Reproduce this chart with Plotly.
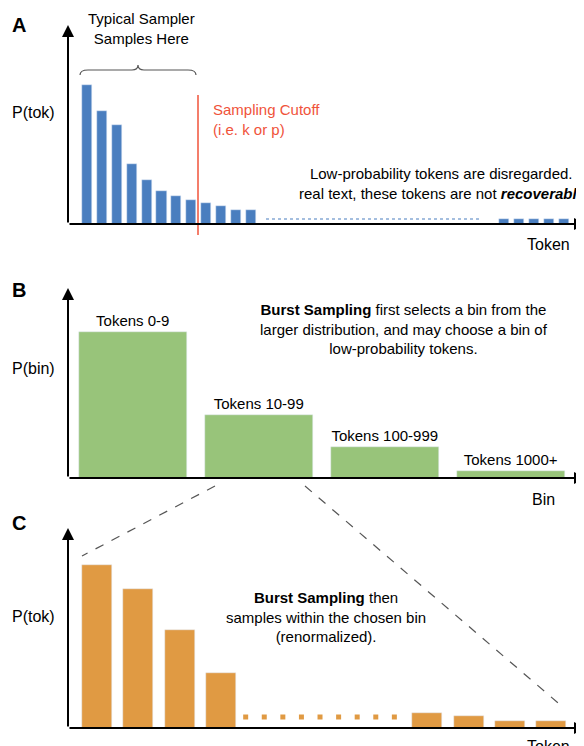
import plotly.graph_objects as go

W, H = 584, 746

# panel A: token probabilities (bar heights in px-like units)
a_idx = [0, 1, 2, 3, 4, 5, 6, 7, 8, 9, 10, 11, 28, 29, 30, 31, 32]
a_val = [139, 113, 99, 60, 44, 33, 28, 24, 21, 18, 14, 14, 5, 5, 5, 5, 5]

# panel B: bins
b_idx = [0, 1, 2, 3]
b_val = [146, 63, 31, 7]
b_lab = ["Tokens 0-9", "Tokens 10-99", "Tokens 100-999", "Tokens 1000+"]

# panel C: renormalized tokens within the bin
c_idx = [0, 1, 2, 3, 8, 9, 10, 11]
c_val = [163, 139, 98, 55, 15, 12, 7, 7]
c_dots = [3.6, 4.05, 4.5, 4.95, 5.4, 5.85, 6.3, 6.75, 7.2]

BLUE, GREEN, ORANGE, RED = "#4a7ebf", "#98c47a", "#e09a43", "#f0533a"
FONT = "Liberation Sans"


def px(x):
    return x / W


def py(y):
    return 1 - y / H


fig = go.Figure()
fig.add_bar(x=a_idx, y=a_val, width=0.68, marker_color=BLUE, xaxis="x", yaxis="y")
fig.add_bar(x=b_idx, y=b_val, width=0.86, marker_color=GREEN, xaxis="x2", yaxis="y2",
            text=b_lab, textposition="outside", cliponaxis=False,
            textfont=dict(size=15, color="black"))
fig.add_bar(x=c_idx, y=c_val, width=0.73, marker_color=ORANGE, xaxis="x3", yaxis="y3")
fig.add_scatter(x=c_dots, y=[11] * len(c_dots), mode="markers", xaxis="x3", yaxis="y3",
                marker=dict(symbol="square", size=5, color=ORANGE))

ax_common = dict(showgrid=False, zeroline=False, showticklabels=False, ticks="", fixedrange=True)
fig.update_layout(
    width=W, height=H, margin=dict(l=0, r=0, t=0, b=0),
    paper_bgcolor="white", plot_bgcolor="white", showlegend=False, bargap=0,
    font=dict(family=FONT, size=15, color="black"),
    xaxis=dict(domain=[px(60), px(578)], range=[-1.275, 33.49], **ax_common),
    yaxis=dict(domain=[py(216), py(17)], range=[0, 199], **ax_common),
    xaxis2=dict(domain=[px(60), px(578)], range=[-0.516, 3.595], anchor="y2", **ax_common),
    yaxis2=dict(domain=[py(470), py(280)], range=[0, 190], anchor="x2", **ax_common),
    xaxis3=dict(domain=[px(60), px(578)], range=[-0.702, 11.84], anchor="y3", **ax_common),
    yaxis3=dict(domain=[py(720), py(520)], range=[0, 200], anchor="x3", **ax_common),
)

ann = []
shapes = []


def text(x, y, s, size=15, color="black", xanchor="center", align="center"):
    ann.append(dict(x=px(x), y=py(y), xref="paper", yref="paper", text=s, showarrow=False,
                    xanchor=xanchor, yanchor="middle", align=align,
                    font=dict(size=size, color=color, family=FONT)))


def arrow(x0, y0, x1, y1):
    ann.append(dict(x=px(x1), y=py(y1), xref="paper", yref="paper", ax=x0 - x1, ay=y0 - y1,
                    axref="pixel", ayref="pixel", showarrow=True, arrowhead=2, arrowsize=1.2,
                    arrowwidth=2, arrowcolor="black", text=""))


for base, top in [(216, 17), (470, 280), (720, 520)]:
    arrow(60, base, 60, top)
    arrow(60, base, 578, base)

# panel A
text(2, 17, "<b>A</b>", size=20, xanchor="left")
text(2, 105, "P(tok)", size=16, xanchor="left")
text(133, 20, "Typical Sampler<br>Samples Here")
text(540, 236, "Token", size=16)
text(203, 112, "Sampling Cutoff<br>(i.e. k or p)", color=RED, xanchor="left", align="left")
text(583, 176, "Low-probability tokens are disregarded. In<br>real text, these tokens are not <b><i>recoverable</i></b>.",
     xanchor="right", align="right")
shapes.append(dict(type="line", xref="paper", yref="paper", x0=px(190), x1=px(190), y0=py(87), y1=py(227),
                   line=dict(color=RED, width=1.5)))
shapes.append(dict(type="line", xref="paper", yref="paper", x0=px(258), x1=px(474), y0=py(211), y1=py(211),
                   line=dict(color=BLUE, width=1.2, dash="dot")))
# curly brace
bx0, bx1, bm, yt, yb = 72, 188, 130, 57, 67
shapes.append(dict(type="path", xref="paper", yref="paper",
                   path=(f"M {px(bx0)},{py(yb)} Q {px(bx0)},{py(yt+5)} {px(bx0+8)},{py(yt+5)} "
                         f"L {px(bm-6)},{py(yt+5)} Q {px(bm)},{py(yt+5)} {px(bm)},{py(yt)} "
                         f"Q {px(bm)},{py(yt+5)} {px(bm+6)},{py(yt+5)} "
                         f"L {px(bx1-8)},{py(yt+5)} Q {px(bx1)},{py(yt+5)} {px(bx1)},{py(yb)}"),
                   line=dict(color="#555555", width=1.2)))

# panel B
text(2, 282, "<b>B</b>", size=20, xanchor="left")
text(2, 360, "P(bin)", size=16, xanchor="left")
text(535, 491, "Bin", size=16)
text(396, 321, "<b>Burst Sampling</b> first selects a bin from the<br>larger distribution, and may choose a bin of<br>low-probability tokens.")

# panel C
text(2, 515, "<b>C</b>", size=20, xanchor="left")
text(2, 608, "P(tok)", size=16, xanchor="left")
text(540, 738, "Token", size=16)
text(318, 609, "<b>Burst Sampling</b> then<br>samples within the chosen bin<br>(renormalized).")
for x0, y0, x1, y1 in [(207, 478, 74, 548), (297, 478, 556, 700)]:
    shapes.append(dict(type="line", xref="paper", yref="paper", x0=px(x0), y0=py(y0), x1=px(x1), y1=py(y1),
                       line=dict(color="#555555", width=1.2, dash="dash")))

fig.update_layout(annotations=ann, shapes=shapes)
fig.write_html("out.html")
